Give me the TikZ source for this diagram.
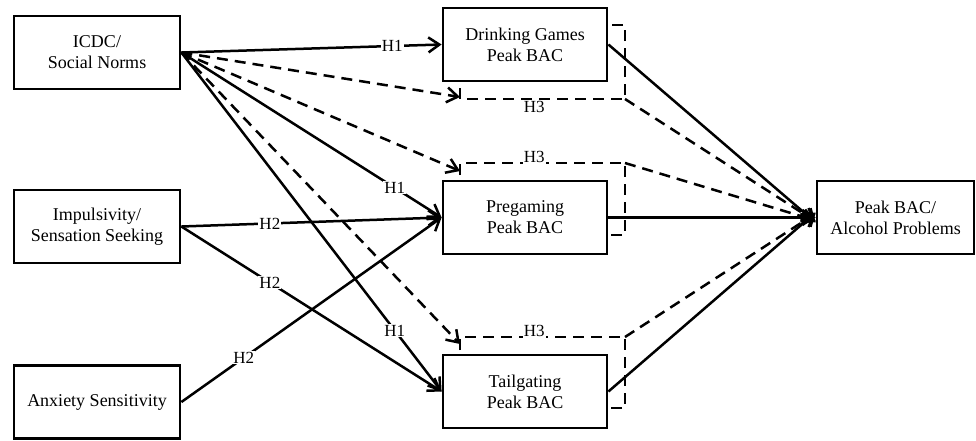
\documentclass[tikz,border=0pt]{standalone}
\usepackage{fontspec}
\setmainfont{Liberation Serif}
\usetikzlibrary{arrows.meta}

\begin{document}
\begin{tikzpicture}[line join=miter, x=1pt, y=-1pt, >={Straight Barb[length=11pt,width=15pt]},
    box/.style={draw, line width=2.8pt, minimum height=73pt, align=center, inner sep=2pt, font=\fontsize{18}{21}\selectfont},
    lbl/.style={fill=white, inner sep=1pt, font=\fontsize{17}{17}\selectfont},
    arr/.style={->, line width=2.5pt},
    brk/.style={line width=2.5pt, dash pattern=on 11pt off 7pt}]
    \useasboundingbox (0,0) rectangle (976,440);

    \node[box, minimum width=166pt] (icdc) at (97,52.5) {ICDC/\\Social Norms};
    \node[box, minimum width=166pt] (imp) at (97,226.5) {Impulsivity/\\Sensation Seeking};
    \node[box, minimum width=166pt] (anx) at (97,402) {Anxiety Sensitivity};

    \node[box, minimum width=164pt] (dg) at (525,44.5) {Drinking Games\\Peak BAC};
    \node[box, minimum width=164pt] (pre) at (525,217.5) {Pregaming\\Peak BAC};
    \node[box, minimum width=164pt] (tail) at (525,391.5) {Tailgating\\Peak BAC};

    \node[box, minimum width=157pt] (peak) at (895.5,217.5) {Peak BAC/\\Alcohol Problems};

    \coordinate (dgtick) at (460,88);
    \coordinate (dgtip) at (460,97);
    \coordinate (dgstart) at (460,99);
    \coordinate (dgcorner) at (625,99);
    \coordinate (dgtop) at (625,25);
    \coordinate (pretick) at (460,175);
    \coordinate (pretip) at (460,171);
    \coordinate (prestart) at (460,163);
    \coordinate (precorner) at (625,163);
    \coordinate (prebot) at (625,235);
    \coordinate (tailtick) at (460,350);
    \coordinate (tailtip) at (460,344);
    \coordinate (tailstart) at (460,337);
    \coordinate (tailcorner) at (625,337);
    \coordinate (tailbot) at (625,408);

    \draw[arr] (icdc.east) -- node[lbl, pos=0.81] {H1} (dg.west);
    \draw[arr] (icdc.east) -- node[lbl, pos=0.82] {H1} (pre.west);
    \draw[arr] (icdc.east) -- node[lbl, pos=0.82] {H1} (tail.west);
    \draw[arr, brk] (icdc.east) -- (dgtip);
    \draw[arr, brk] (icdc.east) -- (pretip);
    \draw[arr, brk] (icdc.east) -- (tailtip);

    \draw[arr] (imp.east) -- node[lbl, pos=0.34] {H2} (pre.west);
    \draw[arr] (imp.east) -- node[lbl, pos=0.34] {H2} (tail.west);
    \draw[arr] (anx.east) -- node[lbl, pos=0.24] {H2} (pre.west);

    \draw[brk] (dgtick) -- (dgstart) -- node[lbl, pos=0.45, below=0pt] {H3} (dgcorner) -- (dgtop) -- (dg.east |- dgtop);
    \draw[brk] (pretick) -- (prestart) -- node[lbl, pos=0.45, above=-2pt] {H3} (precorner) -- (prebot) -- (pre.east |- prebot);
    \draw[brk] (tailtick) -- (tailstart) -- node[lbl, pos=0.45, above=-2pt] {H3} (tailcorner) -- (tailbot) -- (tail.east |- tailbot);

    \draw[arr] (dg.east) -- ([yshift=-5pt]peak.west);
    \draw[arr] (pre.east) -- (peak.west);
    \draw[arr] (tail.east) -- ([yshift=5pt]peak.west);
    \draw[arr, brk] (dgcorner) -- ([yshift=-4pt]peak.west);
    \draw[arr, brk] (precorner) -- ([yshift=-3pt]peak.west);
    \draw[arr, brk] (tailcorner) -- ([yshift=4pt]peak.west);
\end{tikzpicture}
\end{document}
